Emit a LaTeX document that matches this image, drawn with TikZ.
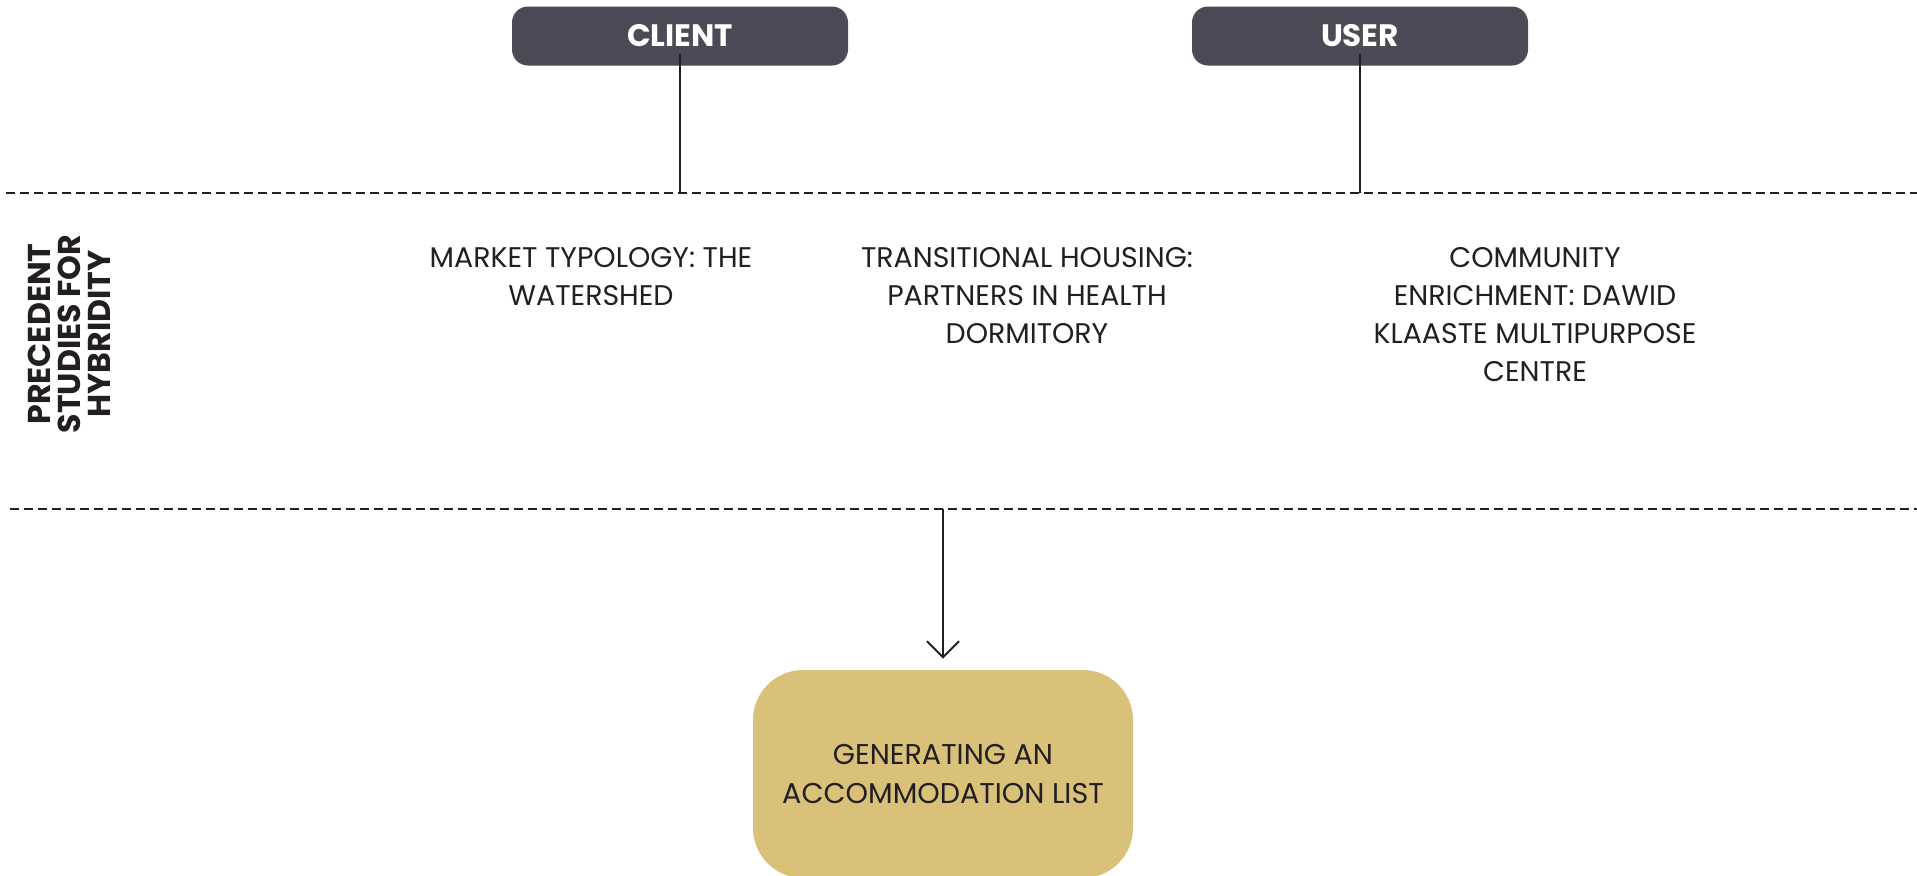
\documentclass[tikz,border=0pt]{standalone}
\usepackage{fontspec}
\setmainfont{Poppins}
\usepackage{xcolor}
\definecolor{slate}{RGB}{74,75,86}
\definecolor{ochre}{RGB}{217,193,121}
\definecolor{ink}{RGB}{35,31,32}
\usetikzlibrary{arrows.meta,positioning}

\begin{document}
\begin{tikzpicture}[x=0.5pt, y=-0.5pt,
    rolebox/.style={fill=slate, rounded corners=8pt, minimum width=168pt, minimum height=29.5pt, inner sep=0pt, text=white, font=\fontsize{15.5}{18}\selectfont\bfseries},
    studytext/.style={anchor=north, align=center, inner sep=0pt, text=ink, font=\fontsize{14.2}{19}\selectfont},
    divider/.style={ink, line width=1pt, dash pattern=on 4.5pt off 2.5pt},
    link/.style={ink, line width=1pt}]
    \useasboundingbox (0,0) rectangle (1917,875);

    % Dashed dividers
    \coordinate (topL) at (6,193);
    \coordinate (topR) at (1917,193);
    \coordinate (botL) at (10,509);
    \coordinate (botR) at (1917,509);
    \draw[divider] (topL) -- (topR);
    \draw[divider] (botL) -- (botR);

    % Stakeholder boxes
    \node[rolebox] (client) at (680,36) {CLIENT};
    \node[rolebox] (user) at (1360,36) {USER};
    \draw[link] ([yshift=6pt]client.south) -- (client.south |- topL);
    \draw[link] ([yshift=6pt]user.south) -- (user.south |- topL);

    % Side label
    \node[rotate=90, align=center, inner sep=0pt, text=ink, font=\fontsize{15.8}{15}\selectfont\bfseries] (precedent) at (69,334) {PRECEDENT\\STUDIES FOR\\HYBRIDITY};

    % Precedent studies
    \node[studytext] (market) at (591,247) {MARKET TYPOLOGY: THE\\WATERSHED};
    \node[studytext] (housing) at (1027,247) {TRANSITIONAL HOUSING:\\PARTNERS IN HEALTH\\DORMITORY};
    \node[studytext] (community) at (1535,247) {COMMUNITY\\ENRICHMENT: DAWID\\KLAASTE MULTIPURPOSE\\CENTRE};

    % Outcome
    \node[fill=ochre, rounded corners=25pt, minimum width=190pt, minimum height=104pt, align=center, text=ink, font=\fontsize{14.3}{19.5}\selectfont] (accom) at (943,774) {GENERATING AN\\ACCOMMODATION LIST};
    \draw[link, -{Straight Barb[length=8pt,width=16pt]}, shorten >=5.5pt] (accom.north |- botL) -- (accom.north);
\end{tikzpicture}
\end{document}
